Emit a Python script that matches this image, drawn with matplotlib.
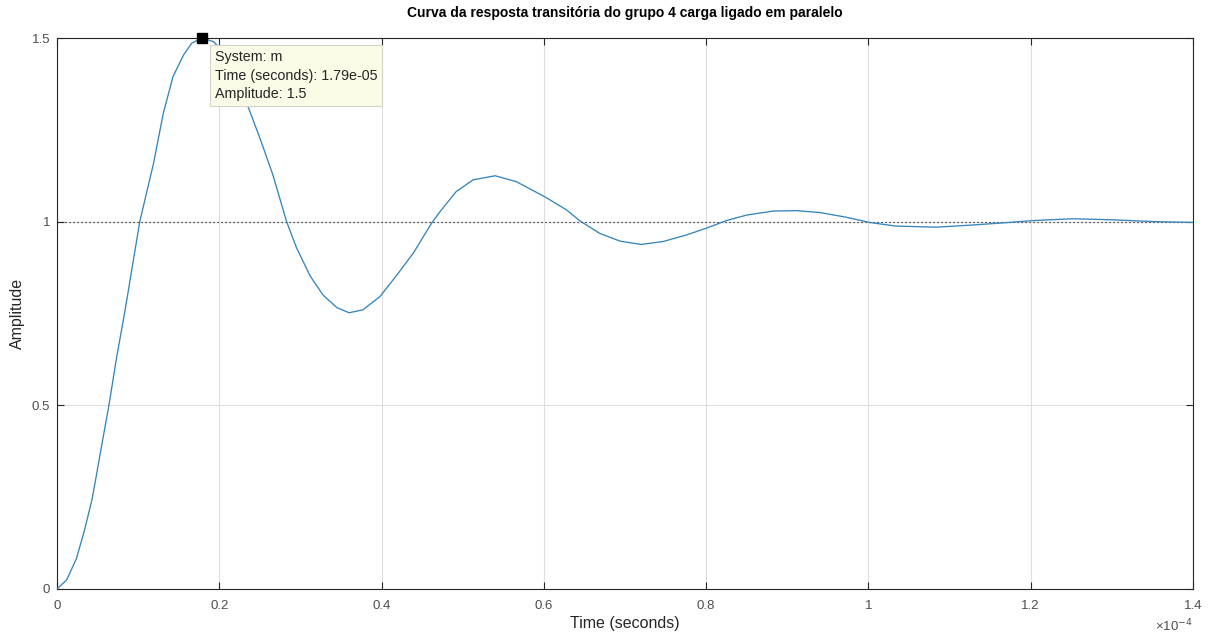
import matplotlib
matplotlib.use("Agg")
import matplotlib.pyplot as plt

plt.rcParams.update(
    {
        "font.family": ["Liberation Sans", "DejaVu Sans"],
        "axes.linewidth": 0.8,
    }
)

# Step response samples (time in units of 1e-4 s)
time_e4 = [
    0.000, 0.012, 0.024, 0.034, 0.043, 0.047, 0.055, 0.064, 0.073, 0.084,
    0.093, 0.102, 0.119, 0.131, 0.143, 0.156, 0.166, 0.179, 0.193, 0.199,
    0.215, 0.236, 0.250, 0.266, 0.283, 0.295, 0.312, 0.328, 0.345, 0.360,
    0.377, 0.398, 0.419, 0.439, 0.462, 0.472, 0.492, 0.513, 0.540, 0.566,
    0.601, 0.628, 0.644, 0.669, 0.694, 0.720, 0.747, 0.776, 0.800, 0.825,
    0.850, 0.883, 0.911, 0.940, 0.973, 1.001, 1.034, 1.084, 1.129, 1.174,
    1.203, 1.252, 1.301, 1.355, 1.400,
]
amplitude = [
    0.000, 0.025, 0.083, 0.161, 0.242, 0.290, 0.390, 0.500, 0.624, 0.760,
    0.880, 1.000, 1.159, 1.295, 1.395, 1.454, 1.486, 1.500, 1.490, 1.476,
    1.420, 1.310, 1.228, 1.128, 1.000, 0.930, 0.852, 0.800, 0.766, 0.752,
    0.760, 0.796, 0.855, 0.914, 0.997, 1.027, 1.082, 1.114, 1.125, 1.109,
    1.068, 1.032, 1.003, 0.968, 0.947, 0.938, 0.946, 0.964, 0.982, 1.003,
    1.018, 1.029, 1.030, 1.025, 1.012, 0.998, 0.988, 0.985, 0.991, 0.998,
    1.003, 1.008, 1.005, 1.000, 0.998,
]
steady_state = 1.0

peak_time_e4 = 0.179
peak_amp = 1.5
tip_lines = ["System: m", "Time (seconds): 1.79e-05", "Amplitude: 1.5"]

x_ticks = [0, 0.2, 0.4, 0.6, 0.8, 1.0, 1.2, 1.4]
x_tick_labels = ["0", "0.2", "0.4", "0.6", "0.8", "1", "1.2", "1.4"]
y_ticks = [0, 0.5, 1.0, 1.5]
y_tick_labels = ["0", "0.5", "1", "1.5"]

fig = plt.figure(figsize=(12.1, 6.37), dpi=100)
ax = fig.add_axes([0.0471, 0.0754, 0.9388, 0.8649])

ax.plot(time_e4, amplitude, color="#3585bb", linewidth=0.95, zorder=3)
ax.axhline(steady_state, color="#222222", linestyle=(0, (1, 2.2)),
           linewidth=0.9, zorder=2)

ax.set_xlim(0, 1.4)
ax.set_ylim(0, 1.5)
ax.set_xticks(x_ticks)
ax.set_xticklabels(x_tick_labels)
ax.set_yticks(y_ticks)
ax.set_yticklabels(y_tick_labels)
ax.grid(True, color="#dedede", linewidth=0.8, zorder=0)
ax.set_axisbelow(True)

for sp in ax.spines.values():
    sp.set_color("#262626")
ax.tick_params(direction="in", length=5, width=0.8, top=True, right=True,
               labelsize=9.5, labelcolor="#4d4d4d", color="#262626")
ax.tick_params(axis="x", pad=8)
ax.tick_params(axis="y", pad=5)

ax.set_title("Curva da resposta transitória do grupo 4 carga ligado em paralelo",
             fontsize=10, fontweight="bold", color="#000000", pad=15)
ax.set_xlabel("Time (seconds)", fontsize=11.5, color="#262626", labelpad=3)
ax.set_ylabel("Amplitude", fontsize=11.5, color="#262626", labelpad=5)

ax.text(1.0, -0.052, "×10$^{-4}$", transform=ax.transAxes,
        ha="right", va="top", fontsize=9.5, color="#4d4d4d")

# Data tip on the peak
ax.plot([peak_time_e4], [peak_amp], marker="s", color="black",
        markersize=6.5, clip_on=False, zorder=5)
ax.annotate(
    "\n".join(tip_lines),
    xy=(peak_time_e4, peak_amp),
    xytext=(12.5, -12),
    textcoords="offset pixels",
    ha="left", va="top",
    fontsize=10.3, color="#262626", linespacing=1.42,
    bbox=dict(boxstyle="square,pad=0.35", fc="#fbfbe8", ec="#d4d4c8", lw=0.8),
    zorder=6,
)

fig.savefig("out.png", dpi=100)
